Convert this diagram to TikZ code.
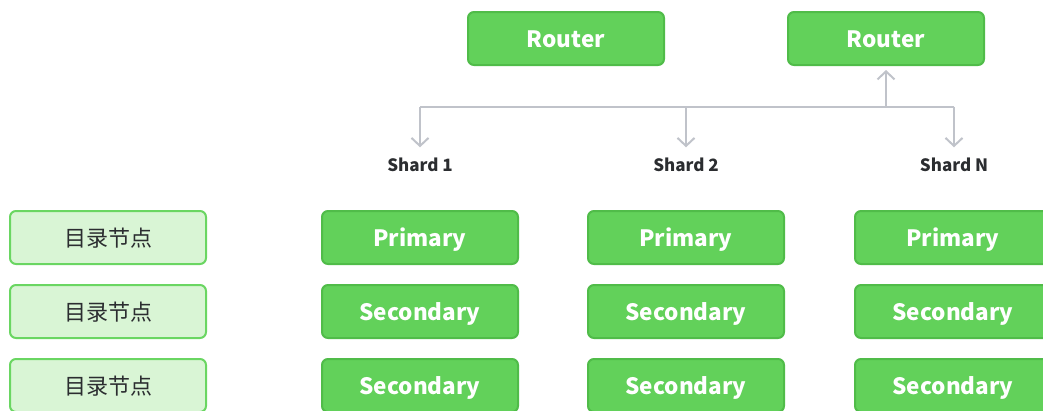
\documentclass[tikz,border=0pt]{standalone}
\usepackage{fontspec}
\setmainfont{Noto Sans CJK SC}
\usetikzlibrary{arrows.meta}

\definecolor{boxgreen}{HTML}{62D15A}
\definecolor{boxedge}{HTML}{50BC49}
\definecolor{palefill}{HTML}{D9F5D5}
\definecolor{paleedge}{HTML}{6AD662}
\definecolor{linkgray}{HTML}{C0C3CA}
\definecolor{labeltext}{HTML}{2B2D30}

\begin{document}
\begin{tikzpicture}[x=1pt,y=-1pt,
  nodebox/.style={rounded corners=6pt, minimum width=196pt, minimum height=53pt,
    line width=2pt, inner sep=0pt},
  role/.style={nodebox, fill=boxgreen, draw=boxedge, text=white,
    text height=17pt, text depth=0pt,
    font=\bfseries\fontsize{22.5}{26}\selectfont},
  catalog/.style={nodebox, fill=palefill, draw=paleedge, text=labeltext,
    text height=18pt, text depth=0pt,
    font=\fontsize{22}{26}\selectfont},
  shardlabel/.style={text=labeltext, inner sep=0pt, text height=11pt, text depth=0pt,
    font=\bfseries\fontsize{17}{20}\selectfont},
  wire/.style={draw=linkgray, line width=2pt},
  link/.style={wire, -{Straight Barb[length=8pt,width=17pt]}},
]
\useasboundingbox (0,0) rectangle (1043,410);
\clip (0,0) rectangle (1043,410);

% routers
\node[role] (r1) at (566,38.5) {Router};
\node[role] (r2) at (886,38.5) {Router};

% shard headings
\node[shardlabel] (sh1) at (420,165.5) {Shard 1};
\node[shardlabel] (sh2) at (686,165.5) {Shard 2};
\node[shardlabel] (shN) at (954,165.5) {Shard N};

% catalog column
\node[catalog] (c1) at (108,237.5) {目录节点};
\node[catalog] (c2) at (108,311.5) {目录节点};
\node[catalog] (c3) at (108,385.5) {目录节点};

% shard replica sets
\foreach \col/\x in {1/420,2/686,3/953}{
  \node[role] (p\col)  at (\x,237.5) {Primary};
  \node[role] (sa\col) at (\x,311.5) {Secondary};
  \node[role] (sb\col) at (\x,385.5) {Secondary};
}

% routing bus
\coordinate (hub) at (886,106.5);
\coordinate (j1) at (sh1 |- hub);
\coordinate (j2) at (sh2 |- hub);
\coordinate (jN) at (shN |- hub);
\draw[wire] (j1) -- (jN);
\draw[link, shorten >=4pt] (hub) -- (r2.south);
\draw[link, shorten >=12.5pt] (j1) -- (sh1.north);
\draw[link, shorten >=12.5pt] (j2) -- (sh2.north);
\draw[link, shorten >=12.5pt] (jN) -- (shN.north);
\end{tikzpicture}
\end{document}
